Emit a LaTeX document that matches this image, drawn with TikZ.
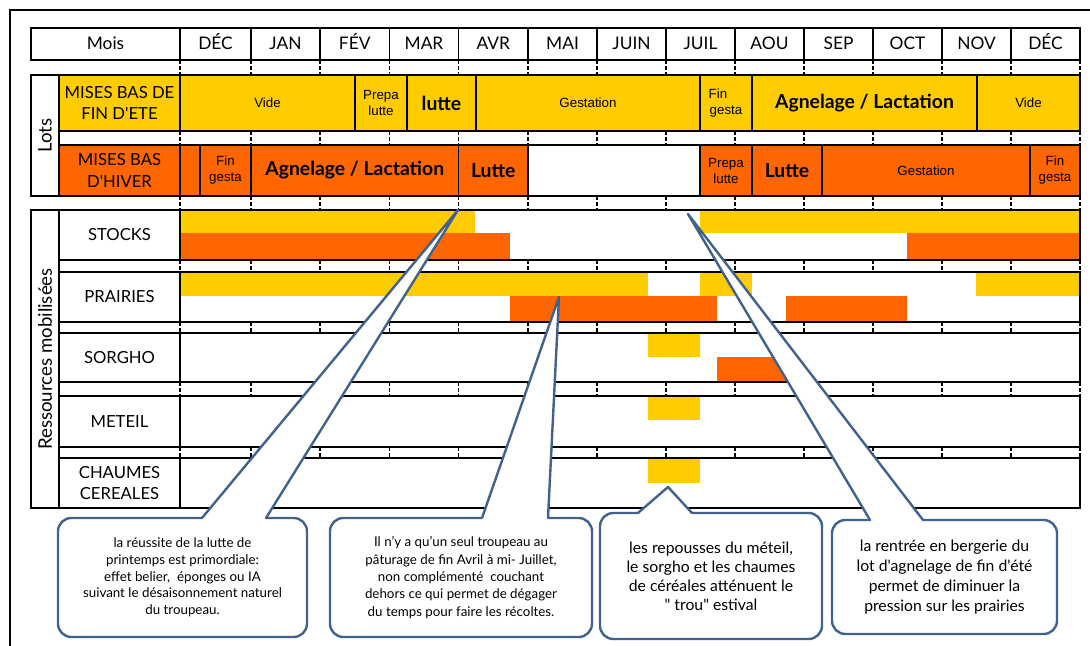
\documentclass[tikz,border=0pt]{standalone}
\usepackage{fontspec}
\setmainfont{Lato}[Ligatures=TeXOff]
\newfontfamily\arialf{Liberation Sans}
\definecolor{jaune}{RGB}{255,204,0}
\definecolor{orng}{RGB}{255,102,0}
\definecolor{bleu}{RGB}{65,98,140}

\begin{document}
\begin{tikzpicture}[x=0.75pt,y=-0.75pt,
    cell/.style={draw,line width=1.4pt},
    tick/.style={line width=1.1pt,dash pattern=on 3pt off 1.5pt},
    lab/.style={font=\fontsize{12.5}{16}\selectfont,align=center},
    entete/.style={font=\fontsize{13}{16}\selectfont,anchor=base},
    tourne/.style={font=\fontsize{14}{16}\selectfont,rotate=90},
    petit/.style={font=\arialf\fontsize{10}{12}\selectfont,align=center},
    gras/.style={font=\bfseries\fontsize{14.5}{16}\selectfont},
    vide/.style={},
    bulle/.style={draw=bleu,line width=1.8pt,fill=white,rounded corners=10pt,align=center},
    pointe/.style={draw=bleu,line width=1.8pt,line cap=round,line join=round}]
    \useasboundingbox (0,0) rectangle (1090,646);
    % cadre
    \draw[line width=1.4pt] (10,646) -- (10,10) -- (1090,10);
    % mois
    \draw[cell] (31,28) rectangle (180,60);
    \node[entete] (mois) at (105.5,50) {Mois};
    \foreach \a/\b/\m [count=\i] in {180/251/DÉC,251/320/JAN,320/389.5/FÉV,389.5/458.5/MAR,
        458.5/528/AVR,528/597/MAI,597/666/JUIN,666/735/JUIL,735/804/AOU,804/873/SEP,
        873/942/OCT,942/1011/NOV,1011/1080/DÉC}
    {
        \draw[cell] (\a,28) rectangle (\b,60);
        \node[entete] (m\i) at ({(\a+\b)/2},50) {\m};
    }
    % pointilles entre les lignes
    \foreach \x in {180,251,320,389.5,458.5,528,597,666,735,804,873,942,1011,1080}
        \foreach \ya/\yb in {60/75,131/145,196/210,260/272,322/333,382/396,447/458}
            \draw[tick] (\x,\ya) -- (\x,\yb);
    % lots
    \draw[cell] (31,75) rectangle (59,196);
    \node[tourne] (lots) at (45,135.5) {Lots};
    \draw[cell,fill=jaune] (59,75) rectangle (180,131);
    \node[lab] (lot1) at (119.5,103) {MISES BAS DE\\FIN D'ETE};
    \foreach \a/\b/\s/\t [count=\i] in {180/355/petit/Vide,355/407/petit/{Prepa\\lutte},
        407/476/gras/lutte,476/700/petit/Gestation,700/752/petit/{Fin\hspace*{1.2em}\\ gesta},
        752/977/gras/{Agnelage / Lactation},977/1080/petit/Vide}
    {
        \draw[cell,fill=jaune] (\a,75) rectangle (\b,131);
        \node[\s] (e\i) at ({(\a+\b)/2},103) {\t};
    }
    \draw[cell,fill=orng] (59,145) rectangle (180,196);
    \node[lab] (lot2) at (119.5,170.5) {MISES BAS\\D'HIVER};
    \foreach \a/\b/\f/\s/\t [count=\i] in {180/200/orng/vide/{},200/251/orng/petit/{Fin\\gesta},
        251/458.5/orng/gras/{Agnelage / Lactation},458.5/528/orng/gras/Lutte,528/700/white/vide/{},
        700/752/orng/petit/{Prepa\\lutte},752/822/orng/gras/Lutte,822/1030/orng/petit/Gestation,
        1030/1080/orng/petit/{Fin\\gesta}}
    {
        \draw[cell,fill=\f] (\a,145) rectangle (\b,196);
        \node[\s] (h\i) at ({(\a+\b)/2},170.5) {\t};
    }
    % ressources
    \foreach \a/\b/\ya/\yb/\c in {180/475/210/233/jaune,180/510/233/260/orng,700/1080/210/233/jaune,
        907/1080/233/260/orng,180/648/272/296/jaune,700/752/272/296/jaune,976/1080/272/296/jaune,
        510/717/296/322/orng,786/907/296/322/orng,648/700/333/357/jaune,717/786/357/382/orng,
        648/700/396/420/jaune,648/700/458/483/jaune}
        \fill[\c] (\a,\ya) rectangle (\b,\yb);
    \draw[cell] (31,210) rectangle (59,508);
    \node[tourne] (res) at (45,359) {Ressources mobilisées};
    \foreach \ya/\yb/\t [count=\i] in {210/260/STOCKS,272/322/PRAIRIES,333/382/SORGHO,
        396/447/METEIL,458/508/{CHAUMES\\CEREALES}}
    {
        \draw[cell] (59,\ya) rectangle (1080,\yb);
        \draw[cell] (180,\ya) -- (180,\yb);
        \node[lab] (r\i) at (119.5,{(\ya+\yb)/2}) {\t};
    }
    % bulles
    \node[bulle,font=\fontsize{10}{12.5}\selectfont,minimum width=249*0.75pt,minimum height=119*0.75pt]
        (c1) at (182.5,577.5) {la réussite de la lutte de\\printemps est primordiale:\\effet belier,~ éponges ou IA\\suivant le désaisonnement naturel\\du troupeau.};
    \node[bulle,font=\fontsize{10}{13}\selectfont,minimum width=262*0.75pt,minimum height=119*0.75pt]
        (c2) at (461,577.5) {Il n’y a qu’un seul troupeau au\\pâturage de fin Avril à mi- Juillet,\\non complémenté~ couchant\\dehors ce qui permet de dégager\\du temps pour faire les récoltes.};
    \node[bulle,font=\fontsize{11.8}{14.3}\selectfont,minimum width=222*0.75pt,minimum height=126*0.75pt]
        (c3) at (711,576) {les repousses du méteil,\\le sorgho et les chaumes\\de céréales atténuent le\\" trou" estival};
    \node[bulle,font=\fontsize{11.8}{15}\selectfont,minimum width=225*0.75pt,minimum height=114*0.75pt]
        (c4) at (944.5,577) {la rentrée en bergerie du\\lot d'agnelage de fin d'été\\permet de diminuer la\\pression sur les prairies};
    % pointes
    \coordinate (t1) at (458,210);
    \coordinate (g1) at (202,518); \coordinate (d1) at (266,518);
    \coordinate (t2) at (559,297);
    \coordinate (g2) at (482,518); \coordinate (d2) at (548,518);
    \coordinate (t3) at (668,487);
    \coordinate (g3) at (638,513); \coordinate (d3) at (692,513);
    \coordinate (t4) at (688,214);
    \coordinate (g4) at (870,520); \coordinate (d4) at (923,520);
    \foreach \i in {1,2,3,4}
    {
        \fill[white] (t\i) -- (g\i) -- ++(0,4) -| (d\i) -- cycle;
        \draw[pointe] (g\i) -- (t\i) -- (d\i);
    }
\end{tikzpicture}
\end{document}
